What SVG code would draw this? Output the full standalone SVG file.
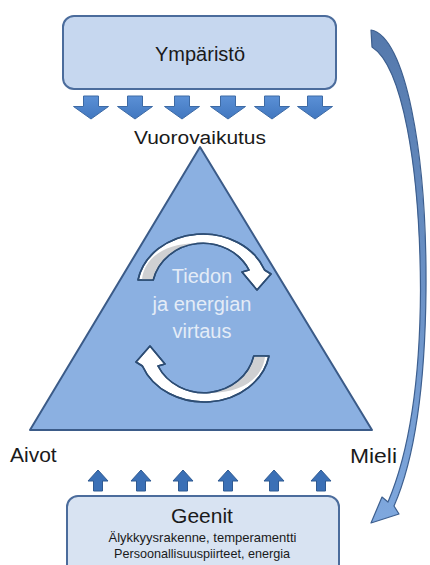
<svg xmlns="http://www.w3.org/2000/svg" width="430" height="565" viewBox="0 0 430 565">
  <defs>
    <style>
      .box { stroke: #4b6c9c; stroke-width: 2; }
      .lbl { font-family: "Liberation Sans", Arial, sans-serif; fill: #1a1a1a; }
      .inner { font-family: "Liberation Sans", Arial, sans-serif; fill: #e4ecf7; font-size: 20px; text-anchor: middle; }
      .down { fill: url(#downFill); stroke: #3d6aa5; stroke-width: 1; }
      .up { fill: #3b70b6; stroke: #2f5a92; stroke-width: 1; }
      .cyc { stroke: #2d4d74; stroke-width: 1.6; stroke-linejoin: round; }
    </style>
    <linearGradient id="downFill" x1="0" y1="0" x2="0" y2="1">
      <stop offset="0" stop-color="#5b90d6"/>
      <stop offset="1" stop-color="#4177bf"/>
    </linearGradient>
    <linearGradient id="sweepFill" x1="0" y1="0" x2="0" y2="1">
      <stop offset="0" stop-color="#5579ac"/>
      <stop offset="1" stop-color="#7fa8de"/>
    </linearGradient>
    <!-- block arrow pointing down, centred on x=0, from y=0 -->
    <path id="downArrow" d="M -7.5,0 H 7.5 V 10.5 H 17.5 L 0,23 L -17.5,10.5 H -7.5 Z"/>
    <!-- small block arrow pointing up, tip at y=0 -->
    <path id="upArrow" d="M 0,0 L 10,11 H 4.5 V 21 H -4.5 V 11 H -10 Z"/>
  </defs>

  <rect width="430" height="565" fill="#ffffff"/>

  <!-- environment box -->
  <g id="ymparisto">
    <rect class="box" x="63" y="16" width="273" height="73" rx="11" fill="#c6d7ef"/>
    <text class="lbl" x="200" y="61" font-size="20" text-anchor="middle">Ympäristö</text>
  </g>

  <!-- triangle with the flow cycle -->
  <g id="kolmio">
    <polygon points="200,147 30,430 372,430" fill="#8bb0e1" stroke="#3b5b88" stroke-width="2" stroke-linejoin="round"/>
    <g id="kierto">
      <g id="kierto-ylä">
        <path class="cyc" fill="#ffffff" d="M 138,280 A 66,56 0 0 1 264.6,270 L 271,274 L 257,290 L 242,272 L 249,270 A 51,47 0 0 0 153.2,280 Z"/>
        <path fill="#cfd0d2" d="M 142,279.5 C 144,258 166,241 203,243.5 A 50.2,46.2 0 0 0 152.4,279.5 Z"/>
        <path class="cyc" fill="none" d="M 138,280 A 66,56 0 0 1 264.6,270 L 271,274 L 257,290 L 242,272 L 249,270 A 51,47 0 0 0 153.2,280 Z"/>
      </g>
      <g id="kierto-ala" transform="rotate(180 203.5 318)">
        <path class="cyc" fill="#ffffff" d="M 138,280 A 66,56 0 0 1 264.6,270 L 271,274 L 257,290 L 242,272 L 249,270 A 51,47 0 0 0 153.2,280 Z"/>
        <path fill="#cfd0d2" d="M 142,279.5 C 144,258 166,241 203,243.5 A 50.2,46.2 0 0 0 152.4,279.5 Z"/>
        <path class="cyc" fill="none" d="M 138,280 A 66,56 0 0 1 264.6,270 L 271,274 L 257,290 L 242,272 L 249,270 A 51,47 0 0 0 153.2,280 Z"/>
      </g>
    </g>
    <text class="inner" x="202" y="283">Tiedon</text>
    <text class="inner" x="202" y="311">ja energian</text>
    <text class="inner" x="202" y="338">virtaus</text>
  </g>

  <!-- genes box -->
  <g id="geenit">
    <rect class="box" x="67" y="496" width="272" height="80" rx="11" fill="#d8e3f2"/>
    <text class="lbl" x="202" y="523" font-size="21" text-anchor="middle">Geenit</text>
    <text class="lbl" x="202.5" y="542" font-size="13" text-anchor="middle">Älykkyysrakenne, temperamentti</text>
    <text class="lbl" x="202" y="558" font-size="13" text-anchor="middle" textLength="176" lengthAdjust="spacingAndGlyphs">Persoonallisuuspiirteet, energia</text>
  </g>

  <!-- corner labels -->
  <g id="vuorovaikutus">
    <text class="lbl" x="200" y="144" font-size="18" text-anchor="middle" textLength="132" lengthAdjust="spacingAndGlyphs">Vuorovaikutus</text>
  </g>
  <g id="aivot">
    <text class="lbl" x="10" y="462" font-size="21">Aivot</text>
  </g>
  <g id="mieli">
    <text class="lbl" x="350" y="463" font-size="21" textLength="47" lengthAdjust="spacingAndGlyphs">Mieli</text>
  </g>

  <!-- connectors -->
  <g id="yhteydet">
    <g id="alas">
      <use href="#downArrow" class="down" x="91" y="96"/>
      <use href="#downArrow" class="down" x="135" y="96"/>
      <use href="#downArrow" class="down" x="182" y="96"/>
      <use href="#downArrow" class="down" x="228" y="96"/>
      <use href="#downArrow" class="down" x="272" y="96"/>
      <use href="#downArrow" class="down" x="315" y="96"/>
    </g>
    <g id="ylos">
      <use href="#upArrow" class="up" x="98" y="470"/>
      <use href="#upArrow" class="up" x="141" y="470"/>
      <use href="#upArrow" class="up" x="183" y="470"/>
      <use href="#upArrow" class="up" x="228" y="470"/>
      <use href="#upArrow" class="up" x="274" y="470"/>
      <use href="#upArrow" class="up" x="321" y="470"/>
    </g>
    <!-- sweeping arrow from environment down to genes -->
    <path id="kaari" fill="url(#sweepFill)" stroke="#3d5f8f" stroke-width="1.2" stroke-linejoin="round"
          d="M 371,30 C 405,36 427,150 426,290 C 425,400 412,465 394,506 L 399,514 L 371,523 L 382,497 L 388,502 C 405,462 420,400 420.5,290 C 420,165 402,66 372,47 Z"/>
  </g>
</svg>
